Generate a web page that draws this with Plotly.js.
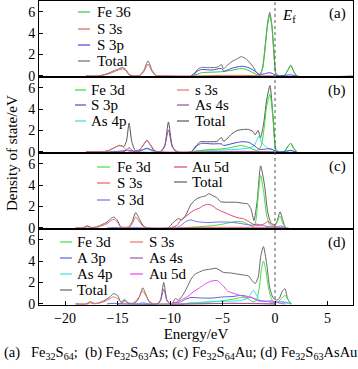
<!DOCTYPE html>
<html><head><meta charset="utf-8">
<script src="https://cdn.plot.ly/plotly-3.0.1.min.js"></script>
<style>html,body{margin:0;padding:0;background:#fff}#chart{width:358px;height:369px}</style>
</head><body><div id="chart"></div>
<script>
// ---------- Panel (a) Fe32S64 ----------
const a_names = ["Fe 36", "S 3s", "S 3p", "Total"];
const a_total_E = [-18, -16.8, -16.0, -15.3, -14.8, -14.5, -14.2, -13.9, -13.5, -12.9, -12.5, -12.1, -11.7, -11.3, -10.5, -7.8, -7.4, -7.0, -6.5, -6.0, -5.5, -5.1, -4.9, -4.6, -4.1, -3.7, -3.2, -2.7, -2.2, -1.8, -1.5, -1.2, -0.9, -0.7, -0.5, -0.3, -0.1, 0.1, 0.4, 0.9, 1.2, 1.5, 1.8, 2.1, 7.5];
const a_total_D = [0, 0, 0.2, 0.5, 0.7, 0.78, 0.6, 0.15, 0, 0.05, 0.5, 1.4, 0.5, 0.02, 0, 0, 0.6, 0.8, 0.78, 0.78, 0.82, 1.05, 0.65, 0.95, 1.35, 1.55, 1.8, 1.55, 1.0, 0.4, 0.05, 0.7, 3.2, 5.0, 5.95, 4.8, 2.2, 0.2, 0, 0.05, 0.5, 1.0, 0.4, 0, 0];
const a_fe_E = [-8, -7.4, -7.0, -6.0, -5.0, -4.0, -3.2, -2.6, -2.0, -1.5, -1.2, -0.9, -0.7, -0.5, -0.3, -0.1, 0.1, 0.4, 0.9, 1.2, 1.5, 1.8, 2.1];
const a_fe_D = [0, 0.15, 0.3, 0.35, 0.4, 0.55, 0.7, 0.55, 0.25, 0.05, 0.6, 3.0, 4.8, 5.7, 4.6, 2.0, 0.15, 0, 0.05, 0.5, 1.0, 0.35, 0];
const a_s3s_E = [-18, -16.8, -16.0, -15.3, -14.8, -14.5, -14.2, -13.9, -13.5, -12.9, -12.5, -12.1, -11.7, -11.3, -10.5, -7.5, -5, -3, -1.5, 0];
const a_s3s_D = [0, 0, 0.15, 0.4, 0.6, 0.65, 0.5, 0.1, 0, 0.03, 0.4, 1.1, 0.4, 0.02, 0, 0, 0.05, 0.05, 0.02, 0];
const a_s3p_E = [-8, -7.4, -7.0, -6.0, -5.1, -4.9, -4.0, -3.2, -2.6, -2.0, -1.5, -1.0, -0.6, -0.3, 0.1, 0.5, 1.5, 2.0];
const a_s3p_D = [0, 0.45, 0.6, 0.55, 0.7, 0.45, 0.75, 0.9, 0.8, 0.5, 0.15, 0.2, 0.3, 0.25, 0.05, 0, 0.1, 0];

// ---------- Panel (b) Fe32S63As ----------
const b_names = ["Fe 3d", "S 3p", "As 4p", "s 3s", "As 4s", "Total"];
const b_total_E = [-18, -16.5, -15.8, -15.2, -14.8, -14.4, -14.15, -13.9, -13.65, -13.3, -12.9, -12.5, -12.2, -11.9, -11.5, -10.9, -10.5, -10.15, -9.8, -9.4, -8, -7.5, -7.1, -6.5, -6.0, -5.5, -5.1, -4.9, -4.6, -4.1, -3.6, -3.0, -2.5, -2.1, -1.9, -1.6, -1.4, -1.1, -0.8, -0.48, -0.2, 0.1, 0.4, 0.9, 1.2, 1.5, 1.8, 2.1];
const b_total_D = [0, 0, 0.15, 0.45, 0.62, 0.5, 1.0, 2.7, 1.0, 0.1, 0.2, 0.7, 1.1, 0.7, 0.1, 0, 0.6, 2.8, 0.6, 0, 0, 0.6, 0.95, 0.95, 0.95, 1.0, 1.35, 1.0, 1.2, 1.7, 2.0, 2.1, 2.1, 1.9, 1.6, 2.0, 1.3, 2.5, 4.8, 6.2, 3.5, 0.2, 0, 0.05, 0.5, 0.8, 0.3, 0];
const b_fe_E = [-8, -7.4, -6.5, -5.5, -4.5, -3.8, -3.2, -2.6, -2.0, -1.6, -1.3, -1.0, -0.8, -0.48, -0.2, 0.1, 0.4, 0.9, 1.2, 1.5, 1.8, 2.1];
const b_fe_D = [0, 0.1, 0.2, 0.25, 0.35, 0.5, 0.6, 0.45, 0.2, 0.15, 0.6, 2.5, 4.2, 5.4, 3.2, 0.15, 0, 0.05, 0.45, 0.8, 0.3, 0];
const b_s3s_E = [-18, -16.5, -15.8, -15.2, -14.9, -14.5, -14.1, -13.6, -13.0, -12.6, -12.2, -11.8, -11.4, -10.8, -7.5, -5, -2, 0];
const b_s3s_D = [0, 0, 0.15, 0.45, 0.58, 0.5, 0.15, 0, 0.05, 0.6, 1.05, 0.6, 0.05, 0, 0, 0.05, 0.03, 0];
const b_s3p_E = [-18, -16, -15, -14.5, -13.9, -13.3, -12.6, -12.2, -11.8, -11, -8, -7.4, -7.0, -6.0, -5.1, -4.9, -4.0, -3.2, -2.5, -2.0, -1.5, -1.0, -0.6, -0.3, 0.1, 0.5, 1.0, 1.5, 2.0];
const b_s3p_D = [0, 0, 0.05, 0.1, 0.15, 0.05, 0.2, 0.35, 0.2, 0, 0, 0.6, 0.8, 0.75, 0.75, 0.6, 0.8, 0.95, 0.9, 0.6, 0.25, 0.25, 0.3, 0.25, 0.05, 0, 0.05, 0.15, 0];
const b_as4s_E = [-15, -14.3, -13.9, -13.5, -13, -11, -10.55, -10.15, -9.75, -9.2, -7, -3, 0];
const b_as4s_D = [0, 0.05, 0.4, 0.05, 0, 0, 0.4, 2.05, 0.4, 0, 0, 0.05, 0];
const b_as4p_E = [-13, -12.2, -11.5, -8, -7.4, -6, -4.5, -3.5, -2.6, -2.0, -1.7, -1.5, -1.3, -1.0, -0.6, -0.2, 0.2, 0.6, 1.5, 2];
const b_as4p_D = [0, 0.3, 0, 0, 0.1, 0.15, 0.2, 0.25, 0.35, 0.55, 1.2, 1.5, 0.9, 0.6, 0.3, 0.2, 0.05, 0, 0.1, 0];

// ---------- Panel (c) Fe32S64Au ----------
const c_names = ["Fe 3d", "S 3s", "S 3d", "Au 5d", "Total"];
const c_total_E = [-19, -18.3, -17.9, -17.5, -17.0, -16.5, -16.0, -15.6, -15.35, -15.0, -14.7, -14.3, -13.9, -13.6, -13.27, -12.9, -12.5, -12.1, -10.2, -9.7, -9.2, -8.9, -8.5, -8.0, -7.5, -7.0, -6.6, -6.3, -5.9, -5.5, -5.2, -4.5, -3.7, -3.0, -2.6, -2.3, -2.0, -1.7, -1.37, -1.0, -0.7, -0.4, -0.1, 0.15, 0.48, 0.75, 1.0, 1.3];
const c_total_D = [0, 0, 0.2, 0.05, 0.1, 0.3, 0.55, 0.9, 1.02, 0.7, 0.1, 0.05, 0.1, 0.6, 1.43, 0.8, 0.15, 0, 0, 0.5, 0.87, 0.75, 1.2, 2.2, 2.7, 2.9, 3.0, 3.2, 3.0, 2.8, 2.45, 2.4, 2.4, 2.3, 2.25, 1.8, 0.7, 2.5, 5.8, 4.0, 1.5, 0.5, 0.3, 0.5, 1.5, 0.7, 0, 0];
const c_fe_E = [-9, -7.5, -6, -5, -4.3, -3.7, -3.0, -2.4, -2.0, -1.8, -1.6, -1.37, -1.1, -0.8, -0.5, -0.2, 0.1, 0.48, 0.8, 1.1];
const c_fe_D = [0, 0.1, 0.2, 0.35, 0.5, 0.6, 0.55, 0.25, 0.15, 0.8, 3.0, 4.9, 3.5, 1.2, 0.3, 0.1, 0.3, 1.1, 0.3, 0];
const c_s3s_E = [-19, -18.2, -17.9, -17.5, -17.0, -16.5, -16.0, -15.6, -15.35, -15.0, -14.7, -14.3, -13.9, -13.6, -13.27, -12.9, -12.5, -12.1, -10, -7, -4, -1, 0];
const c_s3s_D = [0, 0, 0.1, 0.02, 0.05, 0.2, 0.4, 0.7, 0.8, 0.55, 0.08, 0.02, 0.05, 0.4, 1.02, 0.55, 0.1, 0, 0, 0.05, 0.05, 0.05, 0];
const c_s3d_E = [-16, -15.3, -14.6, -13.3, -12.5, -9.5, -9.0, -8.5, -8.0, -7.5, -6.5, -5.5, -4.5, -3.5, -2.6, -2.2, -1.8, -1.4, -1.0, -0.4, 0.1, 0.5, 1.0];
const c_s3d_D = [0, 0.05, 0, 0.05, 0, 0, 0.2, 0.6, 0.75, 0.6, 0.5, 0.55, 0.55, 0.45, 0.3, 0.25, 0.35, 0.3, 0.2, 0.1, 0.05, 0.2, 0];
const c_au_E = [-10, -9.4, -9.0, -8.4, -7.8, -7.2, -6.8, -6.4, -6.0, -5.6, -5.2, -4.6, -4.0, -3.5, -3.0, -2.5, -2.1, -1.8, -1.4, -1.0, -0.7, -0.4, -0.1, 0.3, 0.8];
const c_au_D = [0, 0.2, 0.7, 1.15, 1.6, 1.85, 2.1, 2.2, 2.1, 1.8, 1.6, 1.35, 1.1, 0.95, 0.85, 0.6, 0.35, 0.25, 0.25, 0.4, 0.6, 0.4, 0.15, 0.05, 0];

// ---------- Panel (d) Fe32S63AsAu ----------
const d_names = ["Fe 3d", "A 3p", "As 4p", "Total", "S 3s", "As 4s", "Au 5d"];
const d_total_E = [-19, -18, -17.6, -17.2, -16.8, -16.3, -15.8, -15.4, -15.0, -14.7, -14.3, -14.0, -13.6, -13.2, -12.9, -12.6, -12.3, -12.0, -11.6, -11.2, -10.9, -10.6, -10.3, -10.0, -9.8, -9.5, -9.2, -8.8, -8.4, -8.0, -7.6, -7.3, -6.8, -6.2, -5.6, -4.9, -4.3, -3.65, -3.0, -2.5, -2.2, -1.9, -1.6, -1.35, -1.1, -0.8, -0.5, -0.2, 0.1, 0.4, 0.7, 0.95, 1.2, 1.5];
const d_total_D = [0, 0, 0.2, 0.05, 0.1, 0.3, 0.6, 0.95, 0.8, 0.2, 0.4, 0.1, 0.05, 0.2, 0.7, 1.5, 0.9, 0.2, 0, 0, 0.4, 2.0, 0.4, 0, 0, 0.5, 0.35, 0.8, 1.5, 2.3, 2.8, 2.94, 3.15, 3.24, 3.33, 2.94, 2.9, 2.8, 2.7, 2.6, 2.2, 1.9, 2.5, 4.5, 5.36, 3.8, 1.5, 0.6, 0.35, 0.5, 1.2, 1.42, 0.5, 0];
const d_fe_E = [-9, -7.5, -6, -5, -4, -3.2, -2.6, -2.1, -1.8, -1.5, -1.3, -1.1, -0.9, -0.6, -0.3, 0, 0.3, 0.6, 0.95, 1.3, 1.6];
const d_fe_D = [0, 0.1, 0.2, 0.3, 0.45, 0.6, 0.5, 0.2, 0.3, 1.5, 3.2, 4.0, 3.3, 1.4, 0.4, 0.15, 0.2, 0.5, 0.8, 0.3, 0];
const d_s3s_E = [-19, -17.8, -17.6, -17.3, -16.8, -16.3, -15.8, -15.4, -15.0, -14.6, -14.2, -13.5, -13.0, -12.6, -12.2, -11.8, -11.3, -9, -5, -2, 0];
const d_s3s_D = [0, 0, 0.1, 0.02, 0.05, 0.2, 0.45, 0.66, 0.5, 0.08, 0.02, 0.05, 0.6, 1.2, 0.6, 0.1, 0, 0, 0.05, 0.05, 0];
const d_a3p_E = [-16, -15.4, -14.8, -13, -12.6, -12, -10, -9.5, -9, -8.5, -8, -7, -6, -5, -4, -3.2, -2.6, -2.0, -1.5, -1.0, -0.5, 0, 0.5, 1, 1.5];
const d_a3p_D = [0, 0.05, 0, 0, 0.1, 0, 0, 0.1, 0.2, 0.45, 0.6, 0.55, 0.55, 0.65, 0.7, 0.8, 0.7, 0.5, 0.3, 0.25, 0.2, 0.1, 0.2, 0.15, 0];
const d_as4s_E = [-15, -14.6, -14.3, -14.0, -13.5, -11.2, -10.9, -10.6, -10.3, -10.0, -8, -4, 0];
const d_as4s_D = [0, 0.05, 0.3, 0.05, 0, 0, 0.3, 1.4, 0.3, 0, 0, 0.05, 0];
const d_as4p_E = [-15, -14.6, -14.3, -14.0, -13.5, -9, -8, -6, -4.5, -3.5, -2.8, -2.4, -2.07, -1.8, -1.5, -1.2, -0.8, -0.3, 0.2, 0.6, 1.0, 1.5];
const d_as4p_D = [0, 0.1, 0.35, 0.1, 0, 0, 0.1, 0.2, 0.25, 0.3, 0.45, 0.8, 1.27, 0.9, 0.4, 0.3, 0.25, 0.2, 0.15, 0.2, 0.1, 0];
const d_au_E = [-10, -9.3, -8.8, -8.3, -7.8, -7.2, -6.6, -6.0, -5.5, -5.0, -4.5, -4.0, -3.5, -3.0, -2.6, -2.3, -2.0, -1.6, -1.2, -0.8, -0.4, 0, 0.5, 1.0];
const d_au_D = [0, 0.2, 0.45, 0.7, 1.1, 1.5, 1.9, 2.15, 2.18, 1.75, 1.2, 1.0, 0.85, 0.7, 0.6, 0.65, 0.5, 0.3, 0.25, 0.25, 0.3, 0.2, 0.05, 0];

const yTicks = [0, 2, 4, 6];
const xTicks = [-20, -15, -10, -5, 0, 5];
const panelLabels = ["(a)", "(b)", "(c)", "(d)"];
const caption = "(a)   Fe<sub>32</sub>S<sub>64</sub>;  (b) Fe<sub>32</sub>S<sub>63</sub>As; (c) Fe<sub>32</sub>S<sub>64</sub>Au; (d) Fe<sub>32</sub>S<sub>63</sub>AsAu";

// ---------- build ----------
const FONT = "Liberation Serif, Times New Roman, serif";
const W = 358, H = 369, L = 39, R = 5, T = 1, B = 64;
const pw = W - L - R, ph = H - T - B;
const px = x => (x - L) / pw;
const py = y => (H - B - y) / ph;

// [panelIndex, name, E, D, color]
const series = [
  [0, a_names[3], a_total_E, a_total_D, "#6e6e6e"],
  [0, a_names[0], a_fe_E, a_fe_D, "#33cc33"],
  [0, a_names[1], a_s3s_E, a_s3s_D, "#e06060"],
  [0, a_names[2], a_s3p_E, a_s3p_D, "#4545e8"],
  [1, b_names[5], b_total_E, b_total_D, "#555555"],
  [1, b_names[2], b_as4p_E, b_as4p_D, "#30e0e0"],
  [1, b_names[0], b_fe_E, b_fe_D, "#33dd33"],
  [1, b_names[1], b_s3p_E, b_s3p_D, "#5048c8"],
  [1, b_names[3], b_s3s_E, b_s3s_D, "#f07070"],
  [1, b_names[4], b_as4s_E, b_as4s_D, "#9050a0"],
  [2, c_names[4], c_total_E, c_total_D, "#606060"],
  [2, c_names[0], c_fe_E, c_fe_D, "#44e044"],
  [2, c_names[2], c_s3d_E, c_s3d_D, "#7070f0"],
  [2, c_names[3], c_au_E, c_au_D, "#e0407a"],
  [2, c_names[1], c_s3s_E, c_s3s_D, "#e86060"],
  [3, d_names[3], d_total_E, d_total_D, "#666666"],
  [3, d_names[0], d_fe_E, d_fe_D, "#44dd44"],
  [3, d_names[1], d_a3p_E, d_a3p_D, "#6060e0"],
  [3, d_names[2], d_as4p_E, d_as4p_D, "#30e8e8"],
  [3, d_names[6], d_au_E, d_au_D, "#ee44ee"],
  [3, d_names[4], d_s3s_E, d_s3s_D, "#e87070"],
  [3, d_names[5], d_as4s_E, d_as4s_D, "#9a5aa8"]
];
const colorOf = (p, n) => series.find(s => s[0] === p && s[1] === n)[4];

const traces = series.map(s => ({
  type: "scatter", mode: "lines", name: s[1], x: s[2], y: s[3],
  xaxis: "x" + (s[0] + 1), yaxis: "y" + (s[0] + 1), showlegend: false,
  line: {color: s[4], width: 1, shape: "spline", smoothing: 0.6}, hoverinfo: "skip"
}));

const layout = {
  width: W, height: H, margin: {l: L, r: R, t: T, b: B},
  paper_bgcolor: "#fff", plot_bgcolor: "#fff", showlegend: false,
  font: {family: FONT, size: 15, color: "#000"},
  annotations: [], shapes: []
};
for (let i = 0; i < 4; i++) {
  const k = i + 1;
  const d0 = (3 - i) * 0.25, d1 = d0 + 0.25;
  layout["xaxis" + k] = {
    domain: [0, 1], anchor: "y" + k, range: [-22.48, 7.43],
    showline: true, mirror: true, linecolor: "#000", linewidth: 1,
    showgrid: false, zeroline: false,
    ticks: i === 3 ? "inside" : "", ticklen: 4, tickcolor: "#000",
    tickvals: xTicks, ticktext: xTicks.map(v => v < 0 ? "\u2212" + (-v) : String(v)),
    showticklabels: i === 3, tickfont: {family: FONT, size: 14}
  };
  if (i) layout["xaxis" + k].matches = "x";
  layout["yaxis" + k] = {
    domain: [d0, d1], anchor: "x" + k, range: [-0.1, 7.0],
    showline: true, mirror: true, linecolor: "#000", linewidth: 1,
    showgrid: false, zeroline: false,
    ticks: "inside", ticklen: 4, tickcolor: "#000", tickvals: yTicks,
    tickfont: {family: FONT, size: 14}
  };
  layout.annotations.push({
    xref: "paper", yref: "paper", x: px(337), y: py(T + i * 76 + 13),
    text: panelLabels[i], showarrow: false, xanchor: "center", yanchor: "middle",
    font: {family: FONT, size: 15}
  });
}
layout.xaxis4.title = {text: "Energy/eV", font: {family: FONT, size: 15}, standoff: 2};

// manual legends: [panel, names, line x0, line x1, text x, rows y]
const legendCols = [
  [0, ["Fe 36", "S 3s", "S 3p", "Total"], 78, 90, 95, [12, 29, 45, 61]],
  [1, ["Fe 3d", "S 3p", "As 4p"], 75, 86, 89, [90, 105, 121]],
  [1, ["s 3s", "As 4s", "Total"], 177, 189, 193, [90, 105, 121]],
  [2, ["Fe 3d", "S 3s", "S 3d"], 97, 110, 115, [167, 183, 200]],
  [2, ["Au 5d", "Total"], 174, 187, 190, [167, 182]],
  [3, ["Fe 3d", "A 3p", "As 4p", "Total"], 60, 72, 75, [242, 258, 274, 290]],
  [3, ["S 3s", "As 4s", "Au 5d"], 130, 143, 147, [242, 258, 274]]
];
legendCols.forEach(([p, names, x0, x1, tx, rows]) => {
  names.forEach((n, j) => {
    const col = colorOf(p, n);
    layout.shapes.push({type: "line", xref: "paper", yref: "paper",
      x0: px(x0), x1: px(x1), y0: py(rows[j]), y1: py(rows[j]), line: {color: col, width: 1.2}});
    layout.annotations.push({xref: "paper", yref: "paper", x: px(tx), y: py(rows[j]),
      text: n, showarrow: false, xanchor: "left", yanchor: "middle",
      font: {family: FONT, size: 15}});
  });
});

// Fermi level
layout.shapes.push({type: "line", xref: "x4", yref: "paper", x0: 0, x1: 0, y0: 0, y1: 1,
  line: {color: "#555", width: 1, dash: "dot"}});
layout.annotations.push({xref: "paper", yref: "paper", x: px(280), y: py(16),
  text: "<i>E</i><sub>f</sub>", showarrow: false, xanchor: "left", yanchor: "middle",
  font: {family: FONT, size: 15}});
// y title
layout.annotations.push({xref: "paper", yref: "paper", x: px(12), y: py(153),
  text: "Density of state/eV", textangle: -90, showarrow: false,
  xanchor: "center", yanchor: "middle", font: {family: FONT, size: 15}});
// caption
layout.annotations.push({xref: "paper", yref: "paper", x: px(180), y: py(353),
  text: caption, showarrow: false, xanchor: "center", yanchor: "middle",
  font: {family: FONT, size: 14.5}});

Plotly.newPlot("chart", traces, layout, {staticPlot: true, displayModeBar: false});
</script></body></html>
